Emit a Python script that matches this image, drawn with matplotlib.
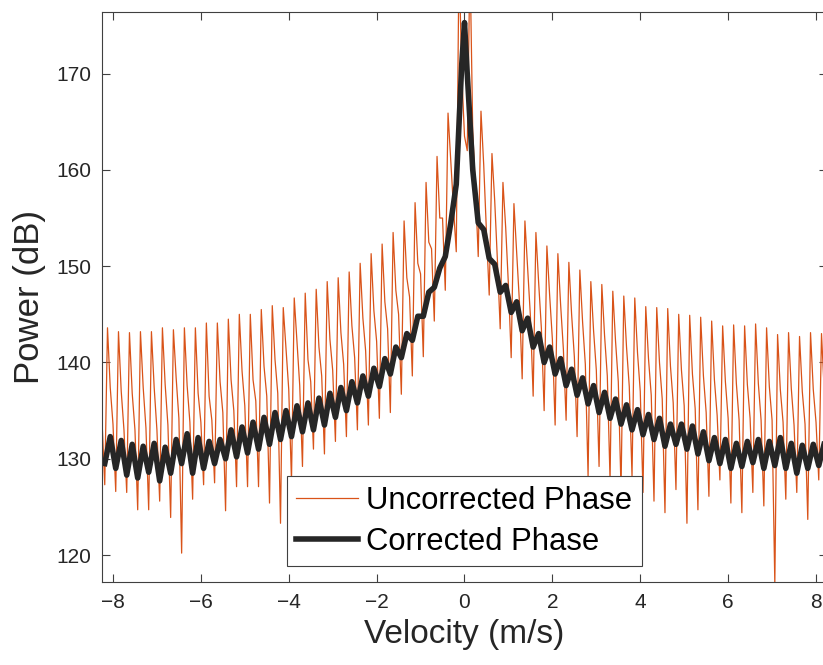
"""Doppler spectrum: uncorrected vs corrected phase."""
import numpy as np
from matplotlib import pyplot as plt

plt.rcParams['font.family'] = ['Liberation Sans', 'DejaVu Sans']

# one spectral period every 0.25 m/s, spike bins centred on these velocities
spike_vel = np.arange(-8.125, 8.126, 0.25)

# uncorrected phase, read per period (dB)
unc_spike = [143.6, 143.2, 143.1, 143.2, 143.2, 143.6, 143.4, 143.6, 143.6, 144.1, 144.1,
             144.5, 145.0, 145.0, 145.5, 145.9, 145.7, 146.7, 147.2, 147.6, 148.4, 148.8,
             149.4, 150.3, 151.3, 152.3, 153.5, 154.7, 156.6, 158.7, 161.4, 165.9, 182.0,
             182.0, 166.1, 161.7, 158.7, 156.5, 154.7, 153.5, 152.1, 151.3, 150.4, 149.6,
             148.4, 148.1, 147.4, 146.9, 146.7, 145.8, 145.7, 145.6, 145.0, 144.9, 144.7,
             144.3, 143.8, 143.9, 143.8, 144.0, 143.6, 142.9, 143.1, 142.7, 143.1, 143.0]
unc_trough = [127.3, 126.6, 126.5, 124.7, 124.7, 125.6, 123.9, 120.2, 125.8, 127.3, 127.5,
              124.6, 127.1, 127.1, 127.1, 125.4, 123.3, 127.7, 129.2, 131.0, 130.5, 131.8,
              132.3, 133.0, 133.5, 134.2, 134.8, 136.7, 138.6, 140.6, 144.3, 147.5, 151.5,
              162.0, 151.0, 147.0, 143.5, 140.5, 138.3, 136.5, 135.0, 133.5, 134.0, 132.3,
              128.2, 129.2, 127.8, 126.8, 128.2, 126.5, 125.6, 124.4, 126.8, 123.3, 124.7,
              126.1, 127.8, 125.4, 124.4, 126.5, 125.1, 117.0, 125.8, 126.5, 123.7, 127.8]
unc_shoulder = [137.4, 137.0, 136.8, 137.4, 137.4, 137.7, 138.4, 137.6, 136.8, 136.5, 138.0,
                138.2, 139.1, 138.2, 139.6, 140.3, 141.4, 142.2, 140.3, 141.6, 142.4, 143.1,
                143.8, 144.6, 145.4, 146.3, 147.5, 148.8, 150.3, 152.5, 155.0, 161.0, 170.0,
                164.0, 160.5, 156.8, 154.0, 151.5, 149.8, 148.3, 147.0, 146.0, 145.0, 144.2,
                143.3, 142.8, 142.2, 141.6, 141.0, 140.4, 140.0, 139.6, 139.2, 138.8, 138.6,
                138.2, 138.0, 137.8, 137.7, 137.8, 137.5, 137.2, 137.3, 137.0, 137.2, 137.0]
unc_floor = [134.0, 133.6, 133.0, 133.0, 133.2, 133.0, 133.5, 134.2, 133.8, 133.8, 134.0,
             134.8, 135.0, 135.5, 136.0, 136.5, 136.8, 137.2, 137.6, 138.0, 138.6, 139.2,
             139.8, 140.5, 141.2, 142.2, 143.5, 145.0, 146.8, 149.2, 151.8, 155.0, 156.0,
             163.5, 158.0, 153.5, 150.5, 148.0, 146.3, 144.8, 143.5, 142.4, 141.4, 140.6,
             139.8, 139.2, 138.6, 138.0, 137.5, 137.0, 136.6, 136.2, 135.8, 135.5, 135.2,
             134.8, 134.5, 134.2, 134.0, 134.2, 134.0, 134.0, 133.8, 133.5, 133.6, 133.8]

# corrected phase: sample before and after each spike bin, plus the main peak
corr_before = [129.5, 129.0, 128.3, 128.0, 128.6, 127.7, 128.5, 129.5, 128.5, 129.0, 129.5,
               130.0, 130.2, 130.6, 131.0, 131.5, 132.0, 132.3, 132.8, 133.0, 133.5, 134.3,
               135.0, 135.8, 136.5, 137.5, 138.8, 140.5, 142.3, 144.8, 147.8, 151.0, 158.5,
               170.0, 154.5, 150.8, 147.3, 145.2, 143.3, 141.6, 140.0, 138.8, 137.6, 136.6,
               135.7, 134.8, 134.2, 133.6, 133.0, 132.5, 132.0, 131.3, 131.5, 131.0, 130.5,
               129.8, 129.5, 129.0, 129.2, 129.6, 129.0, 129.3, 129.0, 128.5, 129.0, 129.3]
corr_after = [132.3, 131.9, 131.5, 131.3, 131.6, 131.2, 132.0, 132.6, 132.2, 131.8, 132.0,
              133.0, 133.3, 133.8, 134.3, 134.8, 135.0, 135.5, 135.8, 136.3, 136.8, 137.4,
              138.0, 138.6, 139.4, 140.4, 141.6, 143.0, 144.8, 147.3, 149.8, 154.5, 171.0,
              160.0, 153.8, 150.2, 148.0, 146.3, 144.6, 143.0, 141.6, 140.4, 139.3, 138.4,
              137.6, 136.9, 136.2, 135.6, 135.1, 134.6, 134.2, 133.6, 133.6, 133.4, 132.8,
              132.2, 132.0, 131.6, 131.8, 132.0, 131.8, 132.2, 131.6, 131.4, 131.5, 131.6]
corr_peak = 175.3

step = 0.0625
unc_v = np.column_stack([spike_vel - 2 * step, spike_vel - step,
                         spike_vel, spike_vel + step]).ravel()
unc_p = np.column_stack([unc_floor, unc_trough, unc_spike, unc_shoulder]).ravel()

half = len(spike_vel) // 2
corr_v = np.column_stack([spike_vel - step, spike_vel + step]).ravel()
corr_p = np.column_stack([corr_before, corr_after]).ravel()
corr_v = np.insert(corr_v, 2 * half, 0.0)
corr_p = np.insert(corr_p, 2 * half, corr_peak)

fig = plt.figure(figsize=(8.23, 6.65), dpi=100)
ax = fig.add_axes([102 / 823, 83 / 665, 725 / 823, 570 / 665])
ax.plot(unc_v, unc_p, color='#D95319', lw=0.9, label='Uncorrected Phase')
ax.plot(corr_v, corr_p, color='#262626', lw=4.0, solid_joinstyle='round',
        label='Corrected Phase')

ax.set_xlim(-8.25, 8.25)
ax.set_ylim(117.2, 176.4)
ax.set_xticks(np.arange(-8, 9, 2))
ax.set_yticks(np.arange(120, 171, 10))
ax.tick_params(direction='in', length=6, width=0.8, top=True, right=True,
               labelsize=15, colors='#404040', labelcolor='#262626', pad=8)
for spine in ax.spines.values():
    spine.set_color('#404040')
    spine.set_linewidth(0.8)
ax.set_xlabel('Velocity (m/s)', fontsize=24, color='#262626', labelpad=5)
ax.set_ylabel('Power (dB)', fontsize=25, color='#262626', labelpad=7)

leg = ax.legend(loc='lower center', bbox_to_anchor=(0.5, 0.028), fontsize=22.3,
                frameon=True, fancybox=False, framealpha=1, edgecolor='#404040',
                handlelength=2.0, handletextpad=0.26, borderpad=0.3,
                labelspacing=0.36, borderaxespad=0)
leg.get_frame().set_linewidth(0.8)

fig.savefig('out.png', dpi=100)
